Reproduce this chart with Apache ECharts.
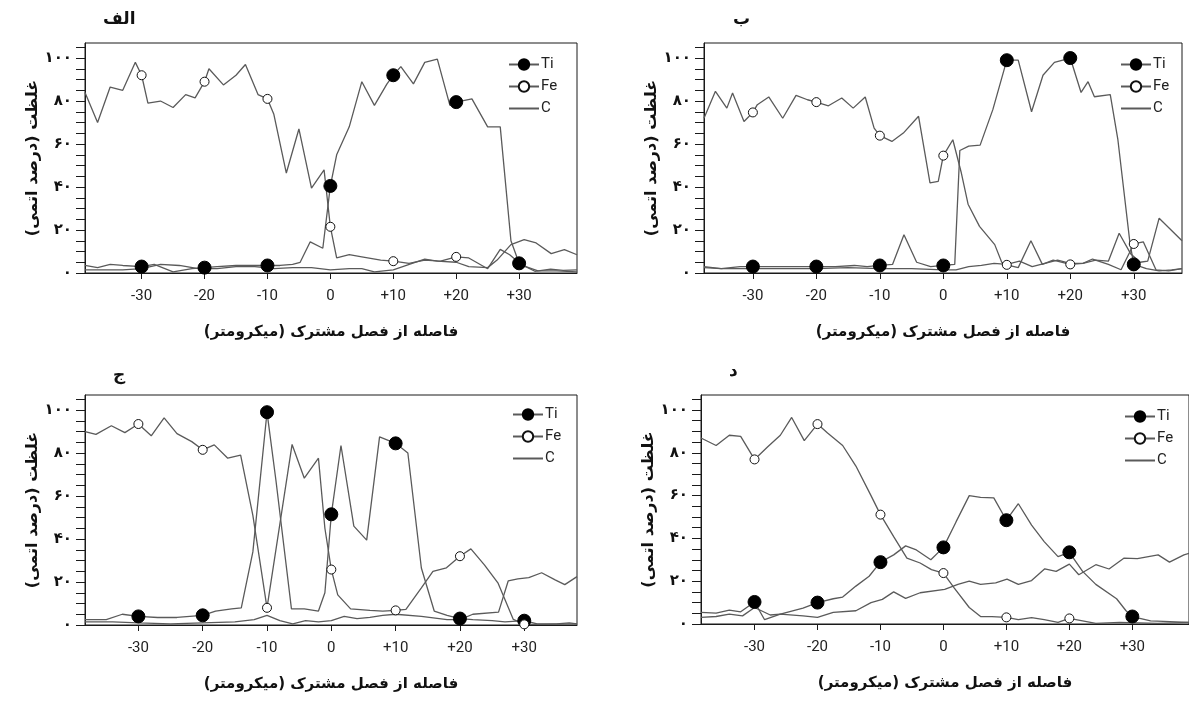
<!DOCTYPE html>
<html>
<head>
<meta charset="utf-8">
<script src="https://cdn.jsdelivr.net/npm/echarts@6/dist/echarts.min.js"></script>
<style>
  html, body { margin: 0; padding: 0; background: #fff; }
  #chart { width: 1189px; height: 704px; }
</style>
</head>
<body>
<div id="chart"></div>
<script>
// Concentration profiles across the interface (x in micrometres, y in atomic %)
const panelTitles = ['الف', 'ب', 'ج', 'د'];
const xTicks = [-30, -20, -10, 0, 10, 20, 30];
const yTicks = [0, 20, 40, 60, 80, 100];
const yMinorTicks = [0, 5, 10, 15, 20, 25, 30, 35, 40, 45, 50, 55, 60, 65, 70, 75, 80, 85, 90, 95, 100, 105];
const elements = ['Ti', 'Fe', 'C'];
const yName = 'غلظت (درصد اتمی)';
const xName = 'فاصله از فصل مشترک (میکرومتر)';

// Panel الف
const tiA = [[-39,3.5],[-37,2.5],[-35,4],[-33,3.5],[-30,3],[-28,4],[-25,0.5],[-22,2],[-20,2.5],[-18,3],[-15,3.5],[-12,3.5],[-10,3.5],[-8,3.5],[-6,4],[-4.8,5],[-3.2,14.5],[-1.2,11.5],[0,40.5],[1,55],[3,68],[5,89],[7,78],[9,88],[10,92],[11.2,96],[13.2,88],[15,98],[17,99.5],[19,78],[20,79.5],[22.5,81],[25,68],[27,68],[28.7,15],[30,4.5],[32.5,0.8],[35,1.8],[37,1.2],[39.2,1.5]];
const feA = [[-39,84],[-37,70],[-35,86.5],[-33,85],[-31,98],[-30,92],[-29,79],[-27,80],[-25,77],[-23,83],[-21.5,81.5],[-20,89],[-19.3,95],[-17,87.5],[-15,92],[-13.5,97],[-11.5,83],[-10,81],[-9,74],[-7,46.5],[-5,67],[-3,39.5],[-1,48],[0,21.5],[1,7],[3,8.5],[5,7.5],[8,6],[10,5.5],[12.5,4.5],[15,6],[17.5,5.5],[20,7.5],[22,7],[25,2],[27,11],[28.5,8.5],[30.5,3.5],[33,1],[36,1],[39.2,0.5]];
const cA = [[-39,1.5],[-37,1.5],[-33,1.5],[-30,2],[-27,4],[-24,3.5],[-21,2],[-18,2],[-15,3],[-12,3],[-9,2],[-6,2.5],[-3,2.5],[0,1.5],[3,2],[5,2],[7,0.5],[10,1.5],[13,4.5],[15,6.5],[17,5.5],[20,5],[22,3],[25,2.5],[26.5,6],[28.7,13.2],[30.8,15.5],[32.7,14],[35.1,9],[37.2,10.9],[39.2,8.5]];

// Panel ب
const tiB = [[-37.7,2.5],[-35,2],[-32,3],[-30,3],[-27,3],[-24,3],[-20,3],[-17,3],[-14,3.5],[-12,3],[-10,3.5],[-8,4],[-6.2,17.8],[-4.2,5],[-2,3],[0,3.5],[1.8,4],[2.6,57],[4,59],[5.8,59.5],[7.8,76],[10,99],[11.8,99],[13.9,75],[15.7,92],[17.5,98],[20,100],[21.7,84],[22.8,89],[23.8,82],[26.3,83],[27.5,62],[29.4,14],[30,4],[32,2],[34,1],[36,1.5],[37.6,2]];
const feB = [[-37.7,72],[-35.9,84.5],[-34.1,76.7],[-33.2,83.7],[-31.4,70.5],[-30,74.7],[-29.3,78.3],[-27.5,81.9],[-25.3,72],[-23.2,82.6],[-21.4,80.6],[-20,79.5],[-18.1,77.8],[-16,81.4],[-14.2,76.7],[-12.3,81.9],[-10.9,67.4],[-10,63.9],[-8.1,61.2],[-6.3,65.1],[-3.9,72.9],[-2.1,41.9],[-0.8,42.6],[0,54.6],[1.5,62],[2.8,47],[3.9,32],[5.7,21.7],[8.1,13.2],[9.2,5],[10,3.8],[11.8,2.5],[13.8,15],[15.6,4],[17.3,6],[20,4],[22,4.5],[23.5,6.5],[26,4],[28,1.5],[30,13.5],[31.5,14.5],[33.5,1.5],[35.5,1],[37.6,2]];
const cB = [[-37.7,3],[-35,2],[-30,2],[-25,2],[-20,2],[-15,2.5],[-10,2],[-5,2],[0,1.5],[2,1.5],[4,3],[6,3.5],[8,4.5],[10,4],[12,5.5],[14,3],[16,4.5],[18,6],[20,4.5],[22,4.5],[24,6],[26,5.5],[27.7,18.5],[29.5,9],[31,5],[32.2,5.5],[34,25.5],[37.6,15]];

// Panel ج
const tiC = [[-38.3,2.5],[-35,2.5],[-32.5,5],[-30,4],[-27,3.5],[-24,3.5],[-20,4.5],[-18,6.5],[-15.5,7.5],[-14,8],[-12.2,34],[-10,99],[-8.6,67],[-6.2,7.5],[-4.2,7.5],[-2,6.5],[-1,15],[0,51.5],[1.5,83.5],[3.5,46],[5.5,39.5],[7.5,87.5],[10,84.5],[11.9,80],[14,26.5],[16,6.5],[18,4.5],[20,3],[22,2.5],[25,2],[27,1.5],[30,2],[32,0.5],[35,0.5],[37,1],[38.2,0.5]];
const feC = [[-38.3,90],[-36.6,88.7],[-34.2,92.7],[-32.1,89.5],[-30,93.5],[-28,88],[-26,96.4],[-24,89],[-21.7,85.3],[-20,81.5],[-18.2,83.8],[-16.1,77.6],[-14.1,79],[-12.2,51],[-10,8],[-6.1,84],[-4.2,68.3],[-2,77.6],[-1,45],[0,25.8],[1,14],[3,7.5],[6,6.8],[8,6.5],[10,6.8],[11.6,7.3],[14,17.3],[15.8,25],[17.9,26.6],[20,32],[21.7,35.4],[23.8,28],[25.9,19.6],[28.3,2.6],[30,0.3],[33,0.3],[38.2,0.5]];
const cC = [[-38.3,1.5],[-34,1.5],[-30,1],[-25,0.5],[-20,1],[-15,1.5],[-12,2.5],[-10,4.5],[-8,2],[-6,0.5],[-4,2],[-2,1.5],[0,2],[2,4],[4,3],[6,3.5],[8,4.5],[10,5],[14,4],[18,2.5],[20,2.5],[22,5],[26,6],[27.5,20.5],[29,21.5],[30.7,22],[32.7,24.3],[34.8,21],[36.3,18.8],[38.2,22.5]];

// Panel د
const tiD = [[-38.5,5.4],[-36.1,5.1],[-34,6.5],[-32.2,5.7],[-30,10.3],[-28.4,2],[-25.9,4.6],[-22.3,7.4],[-20,10],[-17.5,11.8],[-16,12.6],[-13.9,17.7],[-11.8,22.3],[-10,28.9],[-7.9,32.3],[-6,36.5],[-4.3,34.6],[-2,30],[0,35.8],[2,47.7],[4.1,60],[5.9,59.2],[8,58.9],[10,48.5],[11.9,56.2],[14,46.2],[16,38.5],[18.2,31.5],[20,33.5],[22.1,24.6],[24.2,18.5],[27.5,11.8],[29,6.2],[30,3.5],[32.9,1.5],[39,0.8]];
const feD = [[-38.5,86.9],[-36.1,83.4],[-34,88.2],[-32.2,87.7],[-30,76.9],[-27.9,82.8],[-25.9,88.2],[-24.1,96.5],[-22.1,85.7],[-20,93.4],[-18.4,89.2],[-16,83.4],[-13.9,73.8],[-11.5,60],[-10,51.1],[-7.9,40.8],[-5.8,30.8],[-3.7,28.5],[-1.9,25.4],[0,23.8],[1.7,16.9],[4.1,7.7],[5.9,3.5],[7.7,3.4],[10,3.1],[11.9,2],[14,3],[16,2],[18.2,0.8],[20,2.6],[22.1,1.5],[24.2,0.3],[28,0.8],[34,0.3],[39,0.8]];
const cD = [[-38.5,3.1],[-36.1,3.5],[-34,4.6],[-31.9,3.8],[-30,7.7],[-27.5,4.2],[-25.9,4.6],[-22.3,3.8],[-20,3.1],[-17.5,5.4],[-13.9,6.2],[-11.5,10],[-9.7,11.5],[-7.9,15],[-6,12],[-3.7,14.6],[0.2,16.2],[2.3,18.5],[4.1,20],[5.9,18.5],[8.3,19.2],[10.1,21],[11.9,18.5],[14,20.3],[16.1,25.8],[17.9,24.6],[20,28],[21.5,23],[24.2,27.7],[26.3,25.7],[28.7,30.8],[30.8,30.5],[34.1,32.3],[35.9,28.9],[38.2,32.3],[39,33]];

const panels = [
  { ti: tiA, fe: feA, c: cA },
  { ti: tiB, fe: feB, c: cB },
  { ti: tiC, fe: feC, c: cC },
  { ti: tiD, fe: feD, c: cD }
];

// layout of the four plot boxes (px) and their x extents
const boxes = [
  { left: 85,  top: 43,  width: 492, height: 230, xmin: -39,   xmax: 39.2, title: [98, 6],   legend: [508, 57] },
  { left: 704, top: 43,  width: 478, height: 230, xmin: -37.7, xmax: 37.6, title: [728, 6],  legend: [1120, 57] },
  { left: 85,  top: 395, width: 492, height: 230, xmin: -38.3, xmax: 38.2, title: [108, 362], legend: [512, 407] },
  { left: 701, top: 395, width: 496, height: 229, xmin: -38.5, xmax: 39,   title: [724, 358], legend: [1124, 409] }
];

const persian = s => String(s).replace(/\d/g, d => '۰۱۲۳۴۵۶۷۸۹'[d]);
const lineGray = '#5a5a5a';
const axisDark = '#1a1a1a';

// symbols only on the points that sit on a major x tick
const withMarks = arr => arr.map(p => (xTicks.indexOf(p[0]) >= 0 ? { value: p } : { value: p, symbol: 'none' }));

const option = {
  animation: false,
  backgroundColor: '#fff',
  title: boxes.map((b, i) => ({
    text: panelTitles[i], left: b.title[0], top: b.title[1],
    textStyle: { fontFamily: 'DejaVu Sans', fontSize: 17, fontWeight: 'bold', color: '#111' }
  })),
  legend: boxes.map((b, i) => ({
    data: elements, orient: 'vertical', left: b.legend[0], top: b.legend[1],
    itemWidth: 30, itemHeight: 13, itemGap: 7, padding: 0,
    textStyle: { fontFamily: 'Roboto', fontSize: 15, color: '#222', padding: [0, 0, 0, -3] },
    selectedMode: false
  })),
  grid: boxes.map(b => ({
    left: b.left, top: b.top, width: b.width, height: b.height,
    show: true, borderColor: axisDark, borderWidth: 1, containLabel: false
  })),
  xAxis: boxes.map((b, i) => ({
    type: 'value', gridIndex: i, min: b.xmin, max: b.xmax,
    name: xName, nameLocation: 'middle', nameGap: 52,
    nameTextStyle: { fontFamily: 'DejaVu Sans', fontSize: 15, fontWeight: 'bold', color: '#111' },
    axisLine: { show: true, onZero: false, lineStyle: { color: axisDark, width: 1 } },
    axisTick: { show: true, customValues: xTicks, length: 6, lineStyle: { color: axisDark } },
    axisLabel: {
      customValues: xTicks, margin: 16,
      fontFamily: 'Roboto', fontSize: 15, color: '#222',
      formatter: v => (v > 0 ? '+' + v : String(v))
    },
    splitLine: { show: false }
  })),
  yAxis: boxes.map((b, i) => ({
    type: 'value', gridIndex: i, min: 0, max: 107,
    name: yName, nameLocation: 'middle', nameGap: 40, nameRotate: 90,
    nameTextStyle: { fontFamily: 'DejaVu Sans', fontSize: 16, fontWeight: 'bold', color: '#111' },
    axisLine: { show: true, onZero: false, lineStyle: { color: axisDark, width: 1 } },
    axisTick: { show: true, customValues: yMinorTicks, length: 9, lineStyle: { color: axisDark } },
    axisLabel: {
      customValues: yTicks, margin: 13,
      fontFamily: 'DejaVu Sans', fontSize: 15, fontWeight: 'bold', color: '#111',
      formatter: v => persian(v)
    },
    splitLine: { show: false }
  })),
  series: []
};

panels.forEach((p, i) => {
  option.series.push({
    name: 'Ti', type: 'line', xAxisIndex: i, yAxisIndex: i,
    data: withMarks(p.ti), symbol: 'circle', symbolSize: 13, showAllSymbol: true,
    lineStyle: { color: lineGray, width: 1.3 },
    itemStyle: { color: '#000', borderColor: '#000', borderWidth: 1 },
    z: 3
  });
  option.series.push({
    name: 'Fe', type: 'line', xAxisIndex: i, yAxisIndex: i,
    data: withMarks(p.fe), symbol: 'circle', symbolSize: 9, showAllSymbol: true,
    lineStyle: { color: lineGray, width: 1.3 },
    itemStyle: { color: '#fff', borderColor: '#111', borderWidth: 1 },
    z: 3
  });
  option.series.push({
    name: 'C', type: 'line', xAxisIndex: i, yAxisIndex: i,
    data: p.c, symbol: 'none',
    lineStyle: { color: lineGray, width: 1.3 },
    itemStyle: { color: lineGray, opacity: 0 },
    z: 2
  });
});

const chart = echarts.init(document.getElementById('chart'), null, { renderer: 'canvas' });
chart.setOption(option);
</script>
</body>
</html>
